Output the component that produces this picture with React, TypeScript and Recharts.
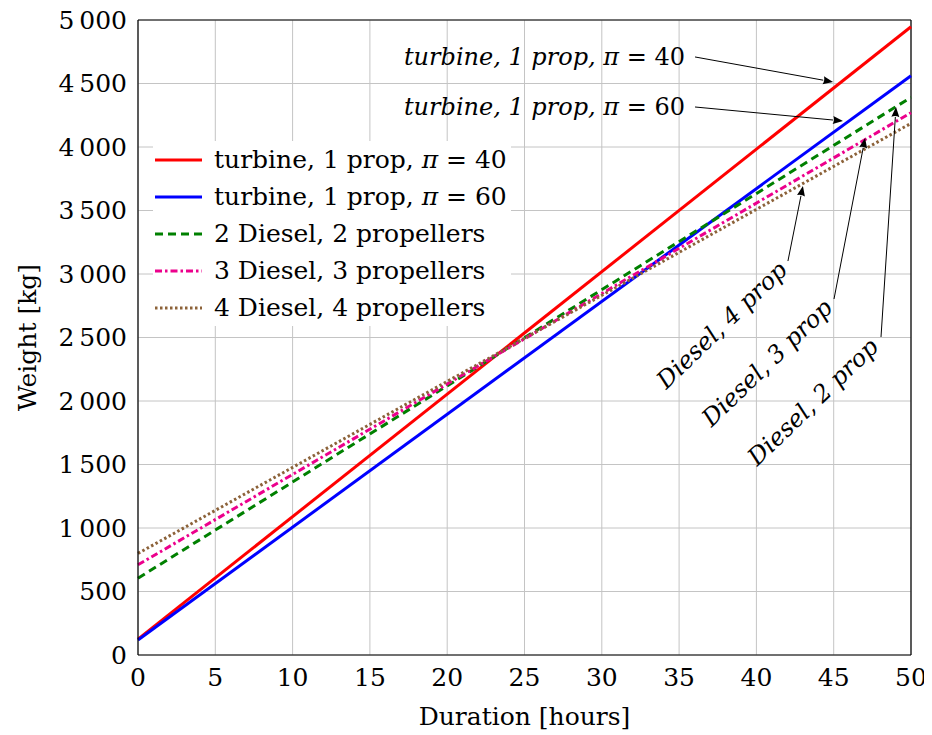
import React from 'react';
import { LineChart, Line, XAxis, YAxis, CartesianGrid, ReferenceLine, ReferenceDot, Legend } from 'recharts';

const hours = [0, 50];
const turbine40 = [125, 4947];
const turbine60 = [118, 4561];
const diesel2 = [605, 4391];
const diesel3 = [710, 4270];
const diesel4 = [800, 4186];

const xTicks = [0, 5, 10, 15, 20, 25, 30, 35, 40, 45, 50];
const yTicks = [0, 500, 1000, 1500, 2000, 2500, 3000, 3500, 4000, 4500, 5000];

const seriesNames = [
  'turbine, 1 prop, π = 40',
  'turbine, 1 prop, π = 60',
  '2 Diesel, 2 propellers',
  '3 Diesel, 3 propellers',
  '4 Diesel, 4 propellers',
];
const seriesKeys = ['t40', 't60', 'd2', 'd3', 'd4'];
const seriesColors = ['#ff0000', '#0000ff', '#008000', '#ec008c', '#8c6239'];
const seriesDash = ['', '', '8 5', '7 3 2.5 3', '2.5 2.5'];

const data = hours.map((h, i) => ({
  hours: h,
  t40: turbine40[i],
  t60: turbine60[i],
  d2: diesel2[i],
  d3: diesel3[i],
  d4: diesel4[i],
}));

// annotation arrows (data coordinates)
const arrowStartX = [36.03, 36.03, 42.04, 45.02, 48.06];
const arrowStartY = [4709, 4315, 3102, 2803, 2504];
const arrowEndX = [44.96, 45.6, 43.01, 47.03, 49.03];
const arrowEndY = [4512, 4205, 3693, 4071, 4315];

// turbine labels (right-aligned)
const turbineLabelX = [35.38, 35.38];
const turbineLabelY = [4709, 4315];
const turbineLabelPi = ['40', '60'];

// diesel rotated labels (centers)
const dieselLabelText = ['Diesel, 4 prop', 'Diesel, 3 prop', 'Diesel, 2 prop'];
const dieselLabelX = [37.77, 40.69, 43.66];
const dieselLabelY = [2598, 2299, 1992];

const FONT = '"DejaVu Serif", serif';
const FS = 25;
const AFS = 24;

const fmt = (v: number) => {
  if (v >= 1000) {
    const s = String(v);
    return s.slice(0, s.length - 3) + '\u2009' + s.slice(s.length - 3);
  }
  return String(v);
};

const Arrow = (p: any) => {
  const { x1, y1, x2, y2 } = p;
  const ang = Math.atan2(y2 - y1, x2 - x1);
  const L = 10;
  const W = 4;
  const bx = x2 - L * Math.cos(ang);
  const by = y2 - L * Math.sin(ang);
  const px = -Math.sin(ang) * W;
  const py = Math.cos(ang) * W;
  return (
    <g>
      <line x1={x1} y1={y1} x2={bx} y2={by} stroke="#000" strokeWidth={1} />
      <path d={`M${x2},${y2} L${bx + px},${by + py} Q${bx + 2 * Math.cos(ang)},${by + 2 * Math.sin(ang)} ${bx - px},${by - py} Z`} fill="#000" />
    </g>
  );
};

const LegendContent = () => (
  <div style={{ fontFamily: FONT, fontSize: FS, lineHeight: '37px', background: 'white', paddingRight: 4 }}>
    {seriesNames.map((n, i) => (
      <div key={i} style={{ display: 'flex', alignItems: 'center', height: 37, whiteSpace: 'nowrap' }}>
        <svg width={55} height={10} style={{ marginRight: 6 }}>
          <line x1={2} y1={5} x2={49} y2={5} stroke={seriesColors[i]} strokeWidth={3} strokeDasharray={seriesDash[i] || undefined} />
        </svg>
        <span>
          {i < 2 ? (
            <>
              turbine, 1 prop, <i>π</i> = {i === 0 ? '40' : '60'}
            </>
          ) : (
            n
          )}
        </span>
      </div>
    ))}
  </div>
);

export default function App() {
  return (
    <div style={{ marginTop: -8, marginLeft: -8, width: 932, height: 735 }}>
      <LineChart width={932} height={735} data={data} margin={{ top: 20, right: 21, left: 0, bottom: 0 }}>
        <CartesianGrid stroke="#c4c4c4" strokeWidth={1} />
        <XAxis
          dataKey="hours"
          type="number"
          domain={[0, 50]}
          ticks={xTicks}
          interval={0}
          height={80}
          tickLine={false}
          tickSize={0}
          tickMargin={13}
          axisLine={{ stroke: '#000', strokeWidth: 1.2 }}
          tick={{ fill: '#000', fontFamily: FONT, fontSize: FS }}
          label={(p: any) => {
            const vb = p.viewBox;
            return (
              <text x={vb.x + vb.width / 2} y={vb.y + 70} textAnchor="middle" fontFamily={FONT} fontSize={FS} fill="#000">
                Duration [hours]
              </text>
            );
          }}
        />
        <YAxis
          type="number"
          domain={[0, 5000]}
          ticks={yTicks}
          interval={0}
          width={138}
          tickLine={false}
          tickSize={0}
          tickMargin={11}
          tickFormatter={fmt}
          axisLine={{ stroke: '#000', strokeWidth: 1.2 }}
          tick={{ fill: '#000', fontFamily: FONT, fontSize: FS }}
          label={(p: any) => {
            const vb = p.viewBox;
            const cx = vb.x + 36;
            const cy = vb.y + vb.height / 2;
            return (
              <text x={cx} y={cy} transform={`rotate(-90, ${cx}, ${cy})`} textAnchor="middle" fontFamily={FONT} fontSize={FS} fill="#000">
                Weight [kg]
              </text>
            );
          }}
        />
        <ReferenceLine y={5000} stroke="#000" strokeWidth={1.2} />
        <ReferenceLine x={50} stroke="#000" strokeWidth={1.2} />
        {seriesKeys.map((k, i) => (
          <Line
            key={k}
            dataKey={k}
            name={seriesNames[i]}
            stroke={seriesColors[i]}
            strokeWidth={3}
            strokeDasharray={seriesDash[i] || undefined}
            dot={false}
            activeDot={false}
            isAnimationActive={false}
            type="linear"
          />
        ))}
        {arrowStartX.map((_, i) => (
          <ReferenceLine
            key={'a' + i}
            segment={[
              { x: arrowStartX[i], y: arrowStartY[i] },
              { x: arrowEndX[i], y: arrowEndY[i] },
            ]}
            ifOverflow="visible"
            shape={Arrow}
          />
        ))}
        {turbineLabelX.map((_, i) => (
          <ReferenceDot
            key={'t' + i}
            x={turbineLabelX[i]}
            y={turbineLabelY[i]}
            ifOverflow="visible"
            shape={(p: any) => (
              <text x={p.cx} y={p.cy} textAnchor="end" dominantBaseline="central" fontFamily={FONT} fontSize={AFS} fill="#000">
                <tspan fontStyle="italic">turbine, 1 prop, π</tspan>
                <tspan> = {turbineLabelPi[i]}</tspan>
              </text>
            )}
          />
        ))}
        {dieselLabelX.map((_, i) => (
          <ReferenceDot
            key={'d' + i}
            x={dieselLabelX[i]}
            y={dieselLabelY[i]}
            ifOverflow="visible"
            shape={(p: any) => (
              <text
                x={p.cx}
                y={p.cy}
                textAnchor="middle"
                dominantBaseline="central"
                transform={`rotate(-44, ${p.cx}, ${p.cy})`}
                fontFamily={FONT}
                fontSize={AFS}
                fontStyle="italic"
                fill="#000"
              >
                {dieselLabelText[i]}
              </text>
            )}
          />
        ))}
        <Legend
          layout="horizontal"
          verticalAlign="middle"
          align="center"
          wrapperStyle={{ left: 153, top: 141, width: 'auto', height: 'auto' }}
          content={LegendContent}
        />
      </LineChart>
    </div>
  );
}
